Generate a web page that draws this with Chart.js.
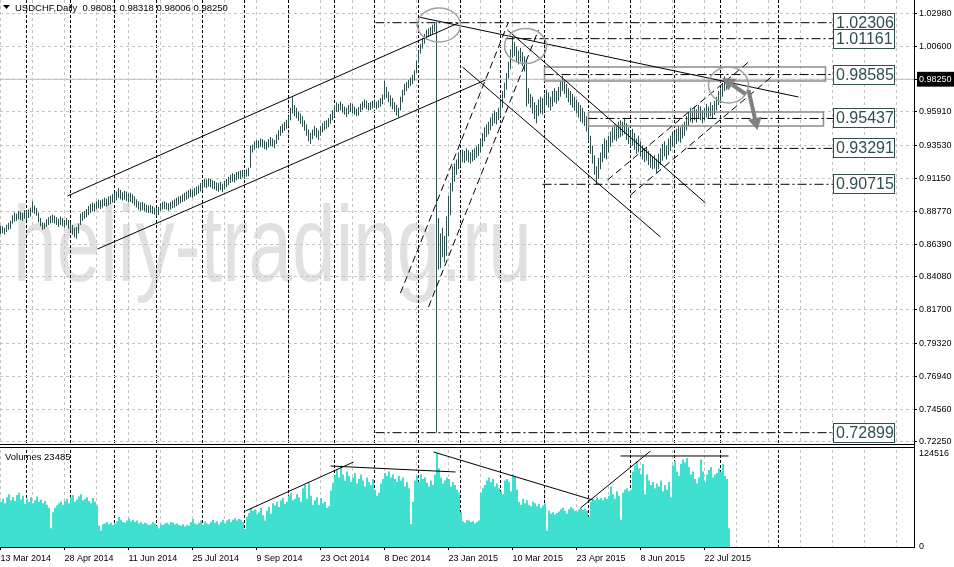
<!DOCTYPE html>
<html><head><meta charset="utf-8">
<script src="https://cdn.jsdelivr.net/npm/chart.js@4"></script>
<style>html,body{margin:0;padding:0;background:#fff;}canvas{display:block;}</style>
</head><body>
<canvas id="c" width="954" height="567"></canvas>
<script>
const symbolTitle = 'USDCHF,Daily  0.98081 0.98318 0.98006 0.98250';
const volumeTitle = 'Volumes 23485';
const watermark = 'heliy-trading.ru';

const xTickLabels = ['13 Mar 2014','28 Apr 2014','11 Jun 2014','25 Jul 2014','9 Sep 2014','23 Oct 2014','8 Dec 2014','23 Jan 2015','10 Mar 2015','23 Apr 2015','8 Jun 2015','22 Jul 2015'];
const xGridTicks = [0,16,32,48,64,80,96,112,128,144,160,176,192,208,224,240,256,272,288,304,320,336,352,368,384,400,416,432,448];
const monthStarts = [13,35,57,78,101,122,144,167,187,209,230,250,272,294,315,337,360,389];
const priceTicks = [1.0298,1.0060,0.9825,0.9591,0.9353,0.9115,0.8877,0.8639,0.8408,0.8170,0.7932,0.7694,0.7456,0.7225];
const bidPrice = 0.9825;
const volumeTicks = [0,124516];

const highs = [
0.8775,0.8770,0.8760,0.8782,0.8795,0.8810,0.8850,0.8870,0.8860,0.8880,
0.8875,0.8865,0.8885,0.8878,0.8890,0.8905,0.8950,0.8920,0.8900,0.8870,
0.8830,0.8800,0.8795,0.8820,0.8835,0.8845,0.8855,0.8848,0.8835,0.8825,
0.8840,0.8830,0.8815,0.8830,0.8815,0.8800,0.8780,0.8760,0.8765,0.8790,
0.8860,0.8875,0.8880,0.8895,0.8915,0.8930,0.8940,0.8935,0.8950,0.8960,
0.8955,0.8965,0.8975,0.8970,0.8985,0.8990,0.9000,0.9010,0.9020,0.9045,
0.9030,0.9015,0.9025,0.9020,0.9005,0.9010,0.9000,0.8985,0.8965,0.8950,
0.8940,0.8945,0.8935,0.8925,0.8920,0.8925,0.8915,0.8905,0.8900,0.8910,
0.8935,0.8945,0.8950,0.8940,0.8935,0.8945,0.8955,0.8965,0.8975,0.8985,
0.8990,0.9000,0.9010,0.9020,0.9030,0.9040,0.9035,0.9045,0.9055,0.9065,
0.9080,0.9095,0.9110,0.9105,0.9115,0.9110,0.9100,0.9095,0.9085,0.9080,
0.9090,0.9075,0.9095,0.9110,0.9125,0.9140,0.9150,0.9145,0.9160,0.9165,
0.9170,0.9175,0.9165,0.9180,0.9190,0.9350,0.9355,0.9380,0.9390,0.9385,
0.9400,0.9395,0.9385,0.9375,0.9395,0.9410,0.9400,0.9390,0.9430,0.9460,
0.9490,0.9505,0.9520,0.9535,0.9560,0.9620,0.9695,0.9640,0.9620,0.9595,
0.9580,0.9560,0.9530,0.9500,0.9465,0.9440,0.9465,0.9490,0.9475,0.9460,
0.9490,0.9510,0.9525,0.9530,0.9545,0.9575,0.9605,0.9640,0.9660,0.9650,
0.9665,0.9650,0.9630,0.9620,0.9640,0.9655,0.9645,0.9630,0.9615,0.9625,
0.9650,0.9665,0.9680,0.9670,0.9655,0.9660,0.9670,0.9680,0.9665,0.9675,
0.9690,0.9715,0.9815,0.9770,0.9735,0.9710,0.9690,0.9660,0.9640,0.9620,
0.9700,0.9750,0.9790,0.9805,0.9820,0.9835,0.9855,0.9890,0.9960,1.0030,
1.0080,1.0120,1.0150,1.0180,1.0190,1.0200,1.0215,1.0225,1.0240,0.8830,
0.8720,0.8760,0.8700,0.8840,0.8990,0.9080,0.9200,0.9220,0.9250,0.9300,
0.9300,0.9320,0.9310,0.9330,0.9315,0.9300,0.9320,0.9330,0.9345,0.9360,
0.9400,0.9440,0.9480,0.9500,0.9520,0.9550,0.9580,0.9600,0.9590,0.9620,
0.9670,0.9740,0.9800,0.9870,0.9950,1.0040,1.0128,1.0090,1.0060,1.0030,
1.0050,1.0020,0.9990,0.9960,0.9760,0.9720,0.9700,0.9660,0.9640,0.9680,
0.9700,0.9690,0.9720,0.9750,0.9730,0.9700,0.9740,0.9760,0.9740,0.9770,
0.9810,0.9850,0.9820,0.9790,0.9760,0.9740,0.9720,0.9700,0.9680,0.9660,
0.9640,0.9620,0.9590,0.9560,0.9520,0.9420,0.9350,0.9280,0.9200,0.9260,
0.9300,0.9360,0.9400,0.9390,0.9420,0.9450,0.9480,0.9500,0.9490,0.9520,
0.9530,0.9520,0.9545,0.9510,0.9480,0.9450,0.9470,0.9440,0.9400,0.9420,
0.9380,0.9350,0.9330,0.9340,0.9310,0.9290,0.9270,0.9280,0.9255,0.9290,
0.9330,0.9360,0.9380,0.9350,0.9400,0.9420,0.9450,0.9440,0.9470,0.9490,
0.9480,0.9500,0.9520,0.9560,0.9590,0.9620,0.9600,0.9630,0.9610,0.9640,
0.9630,0.9600,0.9620,0.9650,0.9630,0.9660,0.9640,0.9670,0.9700,0.9740,
0.9760,0.9800,0.9845,0.9830,0.98318];

const lows = [
0.8715,0.8720,0.8712,0.8730,0.8745,0.8752,0.8790,0.8805,0.8810,0.8820,
0.8815,0.8808,0.8825,0.8815,0.8830,0.8840,0.8870,0.8860,0.8845,0.8800,
0.8770,0.8745,0.8750,0.8765,0.8780,0.8790,0.8795,0.8790,0.8780,0.8765,
0.8780,0.8770,0.8760,0.8775,0.8752,0.8740,0.8710,0.8690,0.8680,0.8720,
0.8780,0.8810,0.8825,0.8835,0.8850,0.8865,0.8880,0.8875,0.8890,0.8900,
0.8895,0.8905,0.8915,0.8910,0.8920,0.8930,0.8940,0.8950,0.8955,0.8975,
0.8965,0.8955,0.8960,0.8950,0.8940,0.8945,0.8935,0.8920,0.8905,0.8890,
0.8880,0.8885,0.8878,0.8870,0.8865,0.8868,0.8860,0.8855,0.8845,0.8852,
0.8880,0.8890,0.8895,0.8888,0.8882,0.8890,0.8900,0.8905,0.8915,0.8925,
0.8935,0.8945,0.8950,0.8960,0.8970,0.8980,0.8975,0.8985,0.8995,0.9005,
0.9020,0.9035,0.9050,0.9045,0.9055,0.9050,0.9040,0.9035,0.9025,0.9018,
0.9030,0.9015,0.9035,0.9050,0.9065,0.9080,0.9090,0.9085,0.9100,0.9110,
0.9110,0.9120,0.9110,0.9125,0.9130,0.9190,0.9300,0.9320,0.9330,0.9330,
0.9340,0.9335,0.9325,0.9320,0.9335,0.9345,0.9340,0.9330,0.9360,0.9390,
0.9420,0.9440,0.9455,0.9470,0.9490,0.9530,0.9580,0.9560,0.9545,0.9525,
0.9505,0.9485,0.9455,0.9420,0.9380,0.9360,0.9395,0.9420,0.9405,0.9390,
0.9420,0.9445,0.9460,0.9470,0.9480,0.9505,0.9530,0.9560,0.9590,0.9590,
0.9600,0.9585,0.9570,0.9555,0.9575,0.9590,0.9580,0.9570,0.9560,0.9565,
0.9590,0.9605,0.9620,0.9610,0.9600,0.9605,0.9615,0.9620,0.9610,0.9620,
0.9630,0.9645,0.9680,0.9690,0.9660,0.9630,0.9610,0.9590,0.9565,0.9555,
0.9600,0.9660,0.9710,0.9740,0.9760,0.9775,0.9790,0.9815,0.9870,0.9940,
1.0010,1.0045,1.0080,1.0110,1.0130,1.0140,1.0150,1.0165,0.7290,0.8460,
0.8470,0.8550,0.8510,0.8560,0.8700,0.8850,0.9020,0.9090,0.9140,0.9180,
0.9200,0.9230,0.9225,0.9240,0.9230,0.9220,0.9235,0.9245,0.9260,0.9275,
0.9300,0.9340,0.9380,0.9410,0.9430,0.9460,0.9490,0.9510,0.9500,0.9530,
0.9560,0.9620,0.9690,0.9750,0.9830,0.9900,0.9980,0.9990,0.9950,0.9930,
0.9950,0.9920,0.9880,0.9630,0.9650,0.9620,0.9580,0.9540,0.9510,0.9560,
0.9580,0.9570,0.9600,0.9640,0.9620,0.9600,0.9630,0.9660,0.9650,0.9670,
0.9700,0.9740,0.9720,0.9690,0.9660,0.9640,0.9620,0.9600,0.9580,0.9550,
0.9520,0.9510,0.9490,0.9450,0.9380,0.9290,0.9220,0.9140,0.9072,0.9110,
0.9180,0.9230,0.9260,0.9250,0.9300,0.9340,0.9370,0.9390,0.9380,0.9400,
0.9410,0.9420,0.9430,0.9390,0.9360,0.9340,0.9350,0.9320,0.9290,0.9300,
0.9270,0.9250,0.9230,0.9240,0.9210,0.9190,0.9180,0.9185,0.9155,0.9180,
0.9210,0.9240,0.9270,0.9250,0.9280,0.9310,0.9340,0.9330,0.9360,0.9380,
0.9370,0.9400,0.9420,0.9460,0.9490,0.9520,0.9510,0.9530,0.9515,0.9540,
0.9530,0.9510,0.9530,0.9550,0.9540,0.9560,0.9540,0.9570,0.9600,0.9640,
0.9670,0.9700,0.9740,0.9750,0.98006];

const volumes = [
60000,64000,58000,66000,70000,62000,66000,61000,69000,72000,
63000,68000,57000,64000,60000,66000,58000,62000,67000,60000,
63000,58000,61000,56000,52000,25000,46000,52000,55000,58000,
60000,56000,61000,64000,58000,66000,69000,60000,63000,67000,
70000,62000,64000,66000,61000,58000,65000,60000,55000,28000,
22000,30000,31000,33000,30000,32000,29000,31000,34000,40000,
36000,33000,32000,35000,38000,34000,36000,33000,35000,31000,
33000,30000,32000,31000,29000,30000,33000,31000,28000,25000,
30000,29000,31000,32000,30000,33000,32000,30000,31000,29000,
28000,30000,27000,29000,28000,33000,37000,31000,30000,32000,
35000,29000,34000,31000,30000,33000,36000,32000,34000,30000,
33000,36000,31000,35000,37000,33000,36000,38000,35000,37000,
36000,33000,24000,40000,45000,52000,48000,50000,44000,46000,
52000,42000,35000,48000,53000,44000,58000,55000,60000,53000,
62000,65000,57000,60000,68000,72000,62000,64000,70000,66000,
60000,78000,82000,64000,85000,68000,56000,62000,66000,56000,
65000,58000,60000,52000,54000,75000,85000,95000,102000,92000,
108000,96000,88000,100000,94000,86000,92000,98000,84000,90000,
96000,88000,80000,92000,86000,82000,90000,76000,68000,72000,
84000,90000,98000,94000,100000,92000,96000,90000,86000,94000,
88000,92000,80000,86000,78000,30000,60000,88000,94000,86000,
96000,90000,92000,85000,80000,88000,82000,96000,124516,104000,
92000,84000,88000,92000,90000,80000,86000,82000,76000,72000,
46000,34000,32000,36000,35000,33000,34000,31000,33000,35000,
72000,78000,82000,88000,92000,86000,90000,80000,84000,78000,
74000,70000,88000,90000,86000,74000,96000,94000,76000,60000,
56000,64000,58000,62000,56000,54000,60000,58000,54000,57000,
52000,55000,58000,22000,48000,44000,46000,43000,45000,47000,
50000,52000,48000,44000,50000,53000,51000,48000,47000,50000,
52000,49000,51000,48000,40000,60000,64000,62000,66000,63000,
65000,62000,66000,64000,68000,80000,70000,64000,74000,68000,
36000,72000,76000,78000,74000,76000,100000,108000,114000,104000,
96000,110000,70000,96000,88000,82000,86000,78000,84000,80000,
88000,74000,82000,76000,86000,66000,108000,114000,100000,94000,
110000,116000,112000,118000,106000,96000,100000,90000,84000,92000,
116000,100000,86000,96000,102000,106000,92000,96000,98000,104000,
100000,110000,94000,90000,25000];

// annotations, in data units: [barIndex1, price1, barIndex2, price2]
const trendLines = [
[33.5,0.89875,229,1.02284],
[48.5,0.86073,242.5,0.98196],
[209,1.02715,399,0.96976],
[253.5,1.01782,352.5,0.89373],
[231,0.99128,330,0.86934]];
const dashedLines = [
[200,0.82917,254,1.02356],
[214,0.81913,269,1.01782],
[303.5,0.91023,374,0.99487],
[315,0.89947,386,0.98483]];
const volumeLines = [
[122.5,47700,176.5,112600],
[165,107300,227.5,99400],
[216.5,125900,296,62300],
[290,51700,325,127200],
[310,120600,364,120600]];
const levels = [1.02306,1.01161,0.98585,0.95437,0.93291,0.90715,0.72899];
const levelStarts = [187.5,252.5,272,294,343.5,271,187.5];
const levelEnd = 416.25;
const zoneBoxes = [[272,0.99128,412.5,0.98124],[294,0.95900,411.5,0.94896]];
const ellipseCenters = [[219.25,1.02141],[262.5,1.00634],[364,0.97837]];
const arrowPaths = [[[372.5,0.97191],[361,0.98340]],[[374,0.97478],[378.5,0.94610]]];

const FONT = "'Liberation Sans',Arial,sans-serif";
const INK = '#2F4F4F';

function seg(a, dash, color, yId){
  return {type:'line', data:[{x:a[0],y:a[1]},{x:a[2],y:a[3]}], xAxisID:'x', yAxisID:yId||'y',
    borderColor:color||'#000', borderWidth:1, borderDash:dash||[], pointRadius:0, fill:false, tension:0, order:1};
}
const datasets = [];
datasets.push({type:'line', data:[{x:-0.25,y:bidPrice},{x:456.75,y:bidPrice}], xAxisID:'x', yAxisID:'y',
  borderColor:'#BDBDBD', borderWidth:1, pointRadius:0, order:20});
datasets.push({type:'bar', label:'USDCHF', data:highs.map((h,i)=>({x:i,y:[lows[i],h]})), xAxisID:'x', yAxisID:'y',
  backgroundColor:INK, barThickness:1, grouped:false, inflateAmount:0, borderWidth:0, order:10});
datasets.push({type:'bar', label:'Volumes', data:volumes.map((v,i)=>({x:i,y:v})), xAxisID:'xv', yAxisID:'yv',
  backgroundColor:'#40E0D0', barThickness:2, grouped:false, inflateAmount:0, borderWidth:0, order:10});
trendLines.forEach(a=>datasets.push(seg(a)));
dashedLines.forEach(a=>datasets.push(seg(a,[7,4])));
volumeLines.forEach(a=>datasets.push(seg(a,[],'#000','yv')));
levels.forEach((v,k)=>datasets.push(seg([levelStarts[k],v,levelEnd,v],[9,3,2,3])));
zoneBoxes.forEach(b=>datasets.push({type:'line', data:[{x:b[0],y:b[1]},{x:b[2],y:b[1]},{x:b[2],y:b[3]},{x:b[0],y:b[3]},{x:b[0],y:b[1]}],
  xAxisID:'x', yAxisID:'y', borderColor:'#8C8C8C', borderWidth:1.5, pointRadius:0, fill:false, tension:0, order:2}));

const decor = {
  id:'decor',
  beforeDraw(chart){
    const c = chart.ctx;
    c.save();
    c.fillStyle = '#fff'; c.fillRect(0,0,chart.width,chart.height);
    c.font = "107px 'Liberation Sans', Arial, sans-serif";
    const w = c.measureText(watermark).width;
    c.translate(13, 281); c.scale(519/w, 1);
    c.fillStyle = '#E1E1E1'; c.textBaseline = 'alphabetic';
    c.fillText(watermark, 0, 0);
    c.restore();
  },
  afterDatasetsDraw(chart){
    const c = chart.ctx, xs = chart.scales.x, ys = chart.scales.y;
    c.save();
    c.strokeStyle = '#A0A0A0'; c.lineWidth = 1.5;
    const radii = [[21.5,17],[21,17.5],[20,18]];
    ellipseCenters.forEach((e,k)=>{
      c.beginPath();
      c.ellipse(xs.getPixelForValue(e[0]), ys.getPixelForValue(e[1]), radii[k][0], radii[k][1], 0, 0, Math.PI*2);
      c.stroke();
    });
    arrowPaths.forEach(p=>{
      const x1 = xs.getPixelForValue(p[0][0]), y1 = ys.getPixelForValue(p[0][1]);
      const x2 = xs.getPixelForValue(p[1][0]), y2 = ys.getPixelForValue(p[1][1]);
      const ang = Math.atan2(y2-y1, x2-x1), L = 12, W = 7;
      const bx = x2 - L*Math.cos(ang), by = y2 - L*Math.sin(ang);
      c.strokeStyle = '#808080'; c.fillStyle = '#808080'; c.lineWidth = 4;
      c.beginPath(); c.moveTo(x1,y1); c.lineTo(bx,by); c.stroke();
      c.beginPath(); c.moveTo(x2,y2);
      c.lineTo(bx + W*Math.sin(ang), by - W*Math.cos(ang));
      c.lineTo(bx - W*Math.sin(ang), by + W*Math.cos(ang));
      c.closePath(); c.fill();
    });
    const bx0 = xs.getPixelForValue(levelEnd);
    c.font = "16px 'Liberation Sans', Arial, sans-serif";
    c.textBaseline = 'middle'; c.textAlign = 'left';
    levels.forEach(v=>{
      const y = Math.round(ys.getPixelForValue(v));
      c.fillStyle = '#fff'; c.fillRect(bx0+0.5, y-9.5, 61, 19);
      c.strokeStyle = INK; c.lineWidth = 1; c.strokeRect(bx0+0.5, y-9.5, 61, 19);
      c.fillStyle = INK; c.fillText(v.toFixed(5), bx0+3, y+1);
    });
    c.restore();
  },
  afterDraw(chart){
    const c = chart.ctx, a = chart.chartArea;
    c.save();
    c.fillStyle = '#fff'; c.fillRect(a.left, 445, a.right-a.left, 2);
    c.strokeStyle = '#000'; c.lineWidth = 1;
    c.beginPath(); c.moveTo(a.left,444.5); c.lineTo(a.right+0.5,444.5); c.moveTo(a.left,447.5); c.lineTo(a.right+0.5,447.5); c.stroke();
    c.fillStyle = '#000';
    c.beginPath(); c.moveTo(3,5); c.lineTo(10,5); c.lineTo(6.5,9); c.closePath(); c.fill();
    c.font = "9.5px " + FONT; c.textBaseline = 'middle';
    c.fillText(symbolTitle, 15, 8);
    c.fillText(volumeTitle, 5, 457);
    c.restore();
  }
};

new Chart(document.getElementById('c'), {
  data:{datasets},
  plugins:[decor],
  options:{
    responsive:false, animation:false, devicePixelRatio:1,
    layout:{padding:0},
    plugins:{legend:{display:false}, tooltip:{enabled:false}},
    scales:{
      x:{type:'linear', position:'bottom', min:-0.25, max:456.75, offset:false,
        afterBuildTicks:s=>{s.ticks = xGridTicks.map(v=>({value:v}));},
        afterFit:s=>{s.height = 20; s.paddingLeft = 0; s.paddingRight = 0;},
        ticks:{autoSkip:false, maxRotation:0, align:'start', padding:3, color:'#000',
          font:{family:FONT, size:9},
          callback:v=> (v % 32 === 0 && xTickLabels[v/32]) ? xTickLabels[v/32] : ''},
        grid:{offset:false, color:'#C4C4C4', lineWidth:1, tickLength:3,
          tickColor:ctx=> (ctx.tick && ctx.tick.value % 32 === 0 && ctx.tick.value <= 352) ? '#000' : 'rgba(0,0,0,0)'},
        border:{display:true, color:'#000', dash:[3,3]}},
      xm:{type:'linear', position:'top', min:-0.25, max:456.75, offset:false,
        afterBuildTicks:s=>{s.ticks = monthStarts.map(v=>({value:v}));},
        afterFit:s=>{s.height = 0; s.paddingLeft = 0; s.paddingRight = 0;},
        ticks:{display:false},
        grid:{offset:false, color:'#000', lineWidth:1, drawTicks:false},
        border:{display:false, dash:[3,2]}},
      xv:{type:'linear', position:'bottom', display:false, min:-0.5, max:456.5, offset:false, grid:{offset:false}},
      y:{type:'linear', position:'right', stack:'panes', stackWeight:446,
        min:0.719424, max:1.03934,
        afterBuildTicks:s=>{s.ticks = priceTicks.map(v=>({value:v}));},
        afterFit:s=>{s.width = 40; s.paddingTop = 0; s.paddingBottom = 0;},
        ticks:{padding:2, font:{family:FONT, size:9},
          color:ctx=> ctx.tick && Math.abs(ctx.tick.value-bidPrice)<1e-9 ? '#fff' : '#000',
          showLabelBackdrop:ctx=> !!(ctx.tick && Math.abs(ctx.tick.value-bidPrice)<1e-9),
          backdropColor:'#000', backdropPadding:{top:2,bottom:2,left:2,right:4},
          callback:v=>Number(v).toFixed(5)},
        grid:{color:'#C4C4C4', tickLength:3, tickColor:'#000'},
        border:{display:true, color:'#000', dash:[3,3]}},
      yv:{type:'linear', position:'right', stack:'panes', stackWeight:101,
        min:0, max:133825,
        afterBuildTicks:s=>{s.ticks = volumeTicks.map(v=>({value:v}));},
        afterFit:s=>{s.width = 40; s.paddingTop = 0; s.paddingBottom = 0;},
        ticks:{padding:5, font:{family:FONT, size:9}, color:'#000', callback:v=>String(v)},
        grid:{display:false, drawTicks:false},
        border:{display:true, color:'#000'}}
    }
  }
});
</script>
</body></html>
